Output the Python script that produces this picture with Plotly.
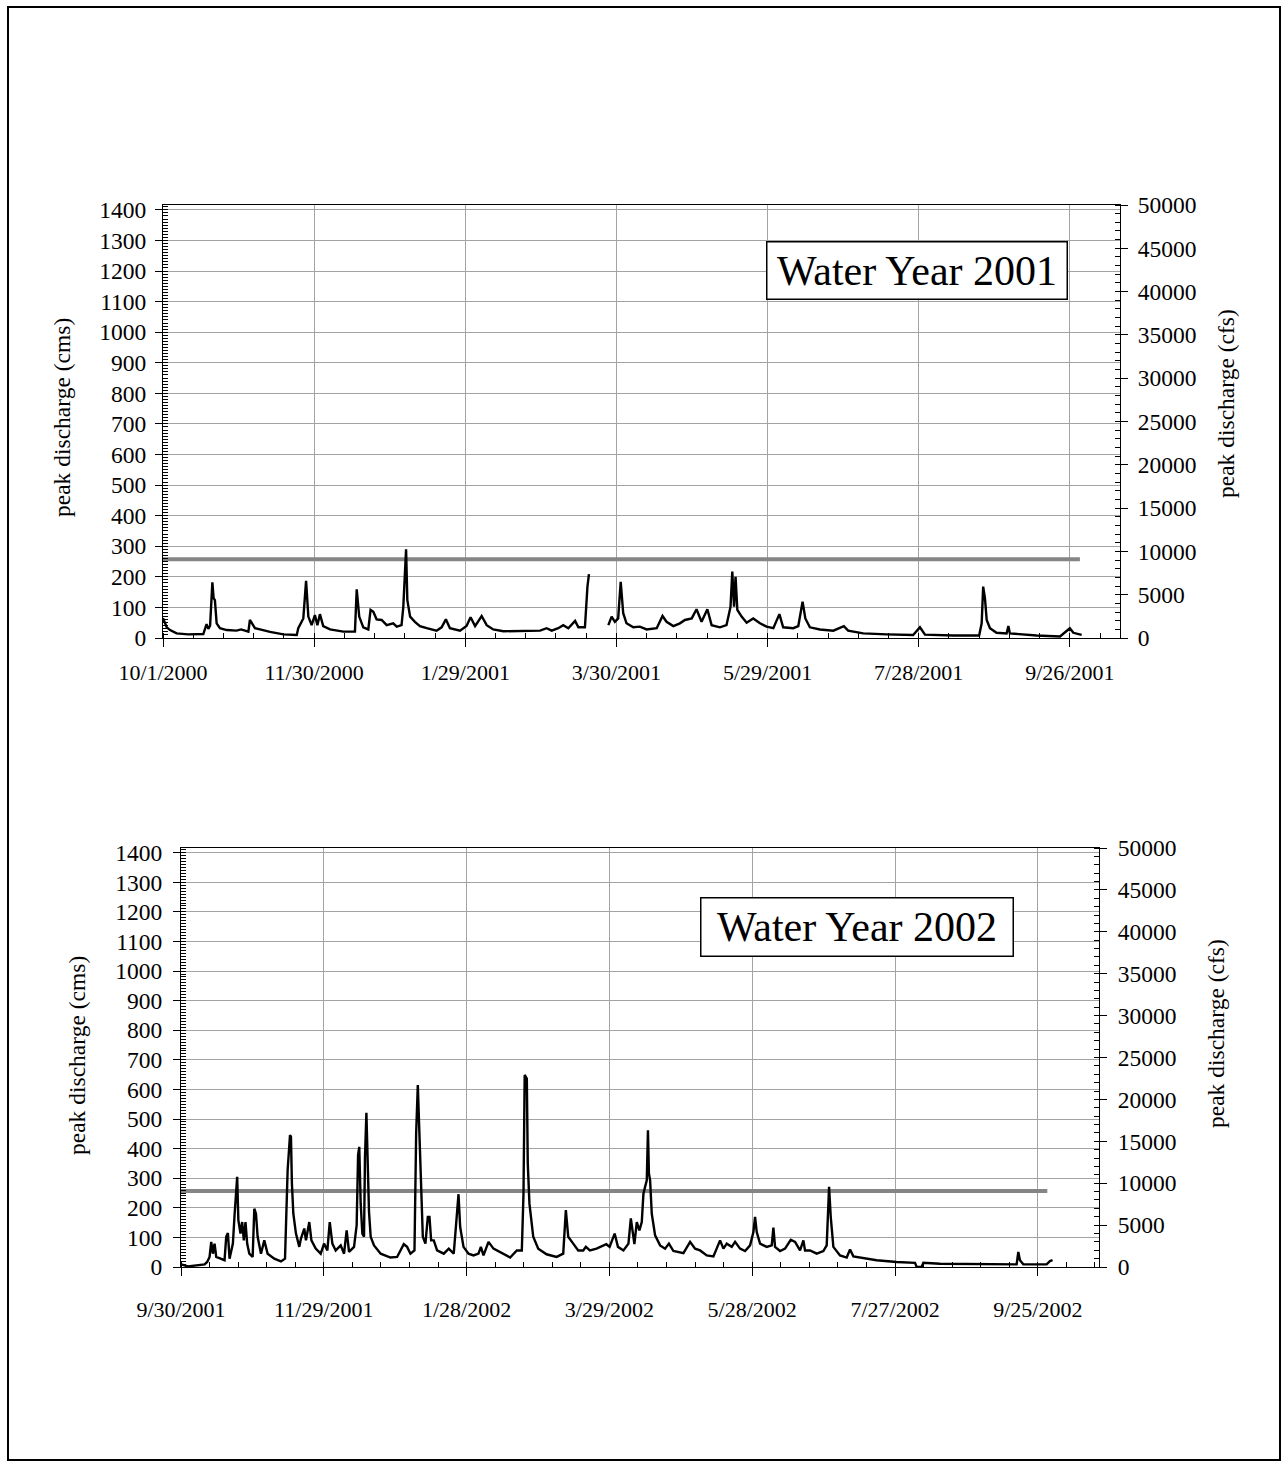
import plotly.graph_objects as go
from datetime import datetime, timedelta

# ---------------- data ----------------
CFS_PER_CMS = 35.3147
threshold_cfs = 9080

wy2001_start = "2000-10-01"
wy2001_day = [0, 1.5, 2.8, 5.4, 10, 16, 17.3, 18, 18.7, 19.6, 20.1, 20.6, 21.3, 22.6, 25.3, 29.2, 31,
              33.9, 34.5, 36.5, 38.5, 42.5, 47.8, 53.1, 53.7, 55.7, 56.8, 57.7, 59.0, 60.3, 61.3, 62.3,
              63.6, 66.3, 71.6, 76.2, 76.9, 77.9, 79.5, 81.5, 82.4, 83.5, 84.8, 86.8, 88.8, 91.4, 92.8,
              94.7, 95.4, 96.5, 97.0, 98.1, 100.0, 102.0, 104.7, 108.6, 110.6, 112.3, 113.9, 117.9,
              120.5, 122.1, 123.9, 126.5, 128.5, 131.1, 135.1, 144.4, 149.7, 152.3, 154.3, 156.9, 158.9,
              160.9, 163.6, 164.9, 167.5, 168.5, 169.1, None, 176.8, 178.1, 179.4, 180.7, 181.7, 182.7,
              184.0, 186.7, 189.3, 192.0, 196.0, 198.3, 199.9, 202.6, 205.2, 207.2, 209.9, 211.8, 213.8,
              216.1, 217.8, 221.1, 223.7, 225.3, 226.0, 226.7, 227.3, 228.0, 229.7, 231.7, 234.3, 237.0,
              239.6, 242.3, 244.7, 246.2, 250.2, 252.2, 253.9, 255.0, 256.8, 260.8, 266.1, 270.3, 272.0,
              278.0, 287.3, 297.8, 300.5, 302.5, 313.7, 324.0, 325.0, 325.6, 326.3, 327.0, 328.3, 330.9,
              334.9, 335.6, 336.2, 346.8, 356.1, 360.0, 361.4, 364.7]
wy2001_cms = [65, 35, 26, 15, 12, 13, 45, 30, 40, 182, 130, 124, 48, 32, 26, 24, 28,
              21, 59, 32, 28, 20, 12, 10, 32, 64, 187, 70, 42, 75, 42, 78,
              39, 28, 21, 21, 159, 70, 35, 28, 92, 86, 61, 59, 42, 48, 37,
              42, 102, 290, 124, 70, 53, 39, 32, 24, 35, 61, 32, 24,
              39, 68, 39, 72, 42, 28, 22, 22, 24, 32, 24, 32, 42,
              32, 56, 35, 35, 168, 209, None, 42, 70, 53, 64, 184, 81,
              48, 35, 37, 28, 32, 72, 53, 39, 48, 59, 64, 94, 53,
              94, 42, 35, 42, 102, 217, 102, 200, 92, 70, 50, 64, 48,
              37, 32, 78, 35, 32, 39, 119, 64, 35, 28, 24, 39, 24,
              15, 12, 10, 35, 11, 8, 8, 48, 168, 130, 59, 32, 17,
              15, 39, 15, 8, 5, 32, 17, 10]

wy2002_start = "2001-09-30"
wy2002_day = [0.1, 2.9, 9.9, 11.0, 12.0, 12.7, 13.4, 14.1, 14.8, 16.9, 18.3, 19.0, 19.7, 20.4, 21.8,
              22.5, 23.2, 23.6, 24.1, 25.0, 25.7, 26.4, 27.1, 27.8, 28.7, 30.1, 30.8, 31.5, 32.2, 33.6,
              35.0, 36.4, 39.2, 42.0, 43.7, 44.8, 45.8, 46.2, 46.6, 47.2, 48.3, 49.7, 50.4, 51.8, 52.5,
              53.2, 53.9, 54.8, 56.6, 58.7, 60.1, 61.5, 62.5, 63.6, 65.0, 67.1, 68.5, 69.6, 70.6, 72.7,
              73.8, 74.4, 74.9, 75.5, 76.2, 76.9, 77.3, 77.9, 78.3, 79.0, 79.7, 81.1, 83.9, 88.0, 90.8,
              93.6, 95.0, 96.4, 98.1, 98.8, 99.5, 100.2, 100.9, 101.6, 102.7, 103.7, 104.4, 105.1, 106.2,
              107.6, 110.4, 112.5, 114.6, 116.0, 116.6, 117.3, 118.7, 120.8, 122.9, 125.0, 126.0, 127.1,
              129.2, 131.3, 134.1, 138.3, 141.1, 143.2, 143.9, 144.4, 145.3, 145.7, 146.4, 148.0, 150.1,
              153.6, 157.8, 160.6, 161.7, 162.7, 164.8, 166.9, 169.0, 170.1, 171.8, 174.6, 178.7, 180.1,
              182.2, 183.6, 185.9, 188.0, 189.0, 189.8, 190.5, 191.5, 192.6, 193.6, 194.3, 195.0, 195.7,
              196.2, 196.6, 197.1, 197.8, 199.2, 201.3, 203.4, 205.0, 206.9, 211.1, 213.9, 216.0, 218.1,
              220.9, 223.7, 226.5, 227.9, 229.3, 231.4, 232.8, 234.9, 237.0, 239.1, 240.5, 241.2, 241.9,
              243.3, 246.1, 248.2, 248.9, 249.6, 251.7, 253.8, 256.2, 258.0, 260.1, 261.5, 262.2, 264.3,
              267.1, 269.9, 271.3, 272.3, 273.0, 274.1, 276.9, 279.7, 281.1, 282.5, 288.1, 292.3, 300.7,
              308.4, 309.1, 311.2, 311.9, 318.9, 351.1, 351.8, 352.5, 353.9, 363.7, 365.1, 366.2]
wy2002_cms = [9, 2, 9, 17, 34, 85, 45, 79, 34, 28, 23, 102, 115, 28, 79,
              175, 271, 305, 158, 113, 152, 90, 152, 79, 45, 34, 197, 180, 102, 45,
              90, 45, 28, 19, 28, 327, 446, 440, 282, 180, 113, 68, 96, 130, 90,
              124, 152, 90, 62, 45, 79, 56, 152, 79, 56, 73, 45, 124, 51, 68,
              141, 378, 406, 214, 113, 102, 372, 521, 378, 186, 102, 73, 45, 32, 34,
              77, 68, 45, 56, 451, 615, 429, 271, 102, 79, 169, 169, 90, 90,
              56, 45, 62, 45, 169, 246, 135, 68, 45, 39, 45, 68, 39,
              85, 62, 51, 32, 56, 56, 248, 649, 637, 350, 214, 102, 62,
              43, 34, 45, 192, 102, 79, 56, 56, 68, 56, 62, 77, 68,
              113, 68, 56, 79, 164, 113, 77, 152, 124, 152, 248, 271, 293,
              462, 316, 293, 180, 107, 73, 62, 79, 54, 47, 85, 62, 56,
              39, 36, 90, 62, 79, 68, 85, 62, 54, 73, 118, 169, 118,
              79, 68, 73, 133, 68, 54, 62, 92, 85, 56, 90, 56, 56,
              45, 54, 73, 271, 169, 68, 39, 32, 59, 36, 28, 23, 17,
              14, 0, 0, 14, 11, 9, 51, 23, 9, 9, 20, 23]

wy2001_threshold_days = [0, 364]
wy2002_threshold_days = [0, 364]

cms_ticks_step = 100
cfs_ticks_step = 5000
cfs_max = 50000
panel_titles = ["Water Year 2001", "Water Year 2002"]
y_left_title = "peak discharge (cms)"
y_right_title = "peak discharge (cfs)"

# ---------------- helpers ----------------
W, H = 1285, 1466
FONT = "Liberation Serif"
DAY_MS = 86400000


def to_dates(start, days):
    s = datetime.strptime(start, "%Y-%m-%d")
    return [None if d is None else s + timedelta(days=d) for d in days]


def px(x):
    return x / W


def py(y):
    return 1 - y / H


xtickfont = dict(family=FONT, size=22, color="black")
ytickfont = dict(family=FONT, size=23.5, color="black")

fig = go.Figure()

# top panel: base = right cfs axis (y), overlay = left cms axis (y2)
fig.add_trace(go.Scatter(x=to_dates(wy2001_start, wy2001_threshold_days),
                         y=[threshold_cfs] * 2, xaxis="x", yaxis="y", mode="lines",
                         line=dict(color="#858585", width=4), showlegend=False))
fig.add_trace(go.Scatter(x=to_dates(wy2001_start, wy2001_day), y=wy2001_cms,
                         xaxis="x", yaxis="y2", mode="lines", connectgaps=False,
                         line=dict(color="black", width=2.4), showlegend=False))
# bottom panel: base = right cfs axis (y3), overlay = left cms axis (y4)
fig.add_trace(go.Scatter(x=to_dates(wy2002_start, wy2002_threshold_days),
                         y=[threshold_cfs] * 2, xaxis="x2", yaxis="y3", mode="lines",
                         line=dict(color="#858585", width=4), showlegend=False))
fig.add_trace(go.Scatter(x=to_dates(wy2002_start, wy2002_day), y=wy2002_cms,
                         xaxis="x2", yaxis="y4", mode="lines", connectgaps=False,
                         line=dict(color="black", width=2.4), showlegend=False))


def xaxis(domain, anchor, start, end, standoff):
    return dict(type="date", domain=domain, anchor=anchor, range=[start, end], automargin=False,
                tick0=start, dtick=60 * DAY_MS, tickformat="%-m/%-d/%Y",
                ticks="outside", ticklen=8, tickcolor="black", tickwidth=1,
                showline=True, linecolor="black", linewidth=1, mirror=True,
                showgrid=True, gridcolor="#a3a3a3", gridwidth=1, zeroline=False,
                minor=dict(tick0=start, dtick=12 * DAY_MS, ticks="inside", ticklen=5,
                           tickcolor="black", showgrid=False),
                tickfont=xtickfont, ticklabelstandoff=standoff)


def cfs_axis(domain, anchor, standoff):
    return dict(domain=domain, anchor=anchor, side="right", range=[0, cfs_max], automargin=False,
                tick0=0, dtick=cfs_ticks_step, tickformat="d",
                ticks="outside", ticklen=7, tickcolor="black",
                showline=True, linecolor="black", linewidth=1, showgrid=False, zeroline=False,
                minor=dict(dtick=1000, ticks="inside", ticklen=5, tickcolor="black", showgrid=False),
                tickfont=ytickfont, ticklabelstandoff=standoff)


def cms_axis(overlay, anchor, standoff):
    return dict(overlaying=overlay, anchor=anchor, side="left", automargin=False,
                range=[0, cfs_max / CFS_PER_CMS], tick0=0, dtick=cms_ticks_step, tickformat="d",
                ticks="outside", ticklen=7, tickcolor="black",
                showline=True, linecolor="black", linewidth=1,
                showgrid=True, gridcolor="#a3a3a3", gridwidth=1, zeroline=False,
                minor=dict(dtick=10, ticks="inside", ticklen=5, tickcolor="black", showgrid=False),
                tickfont=ytickfont, ticklabelstandoff=standoff)


top_x = [px(163), px(1120)]
top_y = [py(638), py(205)]
bot_x = [px(181), px(1099)]
bot_y = [py(1267), py(848)]

fig.update_layout(
    width=W, height=H, margin=dict(l=0, r=0, t=0, b=0, pad=0, autoexpand=False),
    paper_bgcolor="white", plot_bgcolor="white", showlegend=False,
    xaxis=xaxis(top_x, "y", "2000-10-01", "2001-10-15 22:00", 7),
    yaxis=cfs_axis(top_y, "x", 5),
    yaxis2=cms_axis("y", "x", 4),
    xaxis2=xaxis(bot_x, "y3", "2001-09-30", "2002-10-20 17:00", 15),
    yaxis3=cfs_axis(bot_y, "x2", 6),
    yaxis4=cms_axis("y3", "x2", 6),
)

ann = []
# axis titles
for (x, y, t) in [(62, 418, y_left_title), (1226, 404, y_right_title),
                  (77, 1056, y_left_title), (1216, 1034, y_right_title)]:
    ann.append(dict(text=t, x=px(x), y=py(y), xref="paper", yref="paper",
                    xanchor="center", yanchor="middle", textangle=-90, showarrow=False,
                    font=dict(family=FONT, size=23.5, color="black")))
# panel boxes
for (x, y, w, h, t) in [(916.5, 271, 301, 58, panel_titles[0]), (856.5, 926.5, 313, 59, panel_titles[1])]:
    ann.append(dict(text=t, x=px(x), y=py(y), xref="paper", yref="paper",
                    xanchor="center", yanchor="middle", showarrow=False,
                    width=w - 4, height=h - 4, borderpad=1, borderwidth=1.5,
                    bordercolor="black", bgcolor="white",
                    font=dict(family=FONT, size=42, color="black")))
fig.update_layout(annotations=ann)

fig.add_shape(type="rect", xref="paper", yref="paper", x0=px(8), x1=px(1280),
              y0=py(1460), y1=py(7), line=dict(color="black", width=2), layer="above")

fig.write_html("out.html", config={"displayModeBar": False},
               post_script="document.body.style.margin='0';")
